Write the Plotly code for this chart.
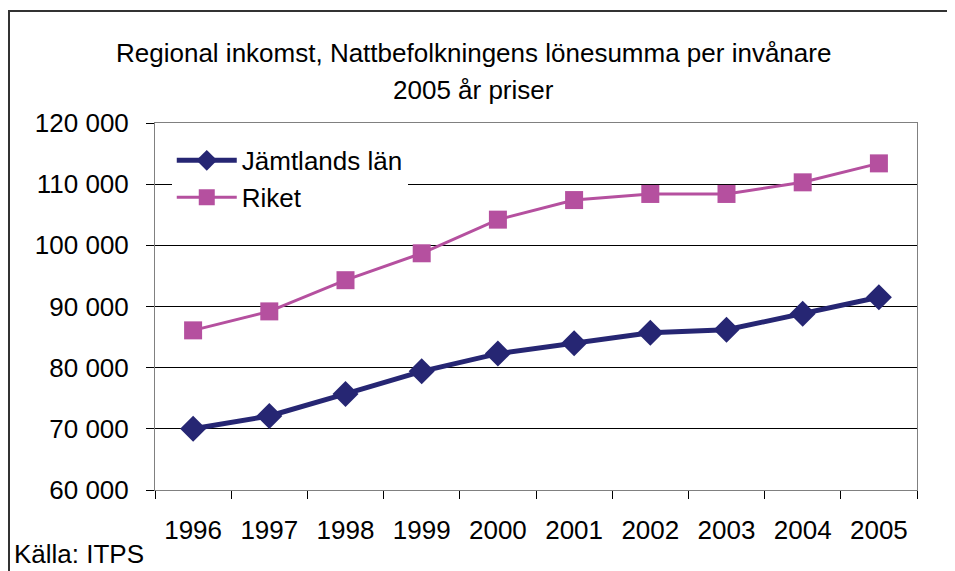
import plotly.graph_objects as go

# values
years = ["1996", "1997", "1998", "1999", "2000", "2001", "2002", "2003", "2004", "2005"]
jamtland = [70000, 72100, 75700, 79400, 82300, 84000, 85700, 86200, 88800, 91500]
riket = [86100, 89200, 94300, 98700, 104200, 107400, 108400, 108400, 110300, 113400]

font = "Liberation Sans, Arial, sans-serif"

fig = go.Figure()
fig.add_scatter(x=years, y=jamtland, name="Jämtlands län", mode="lines+markers",
                line=dict(color="#262673", width=5),
                marker=dict(symbol="diamond", size=20, color="#262673"))
fig.add_scatter(x=years, y=riket, name="Riket", mode="lines+markers",
                line=dict(color="#B5509F", width=3),
                marker=dict(symbol="square", size=18, color="#B5509F"))

# the page body has an 8px margin, so the figure is a bit smaller than the window
fig.update_layout(
    width=947, height=563,
    margin=dict(l=147, r=38, t=115, b=81),
    paper_bgcolor="white", plot_bgcolor="white",
    font=dict(family=font, size=26, color="black"),
    separators=". ",
    showlegend=True,
    legend=dict(x=0.022, y=0.962, xanchor="left", yanchor="top", itemwidth=60,
                bgcolor="white", font=dict(size=26), tracegroupgap=0),
)

fig.update_xaxes(type="category", range=[-0.5, 9.5], tickson="boundaries", ticks="outside",
                 ticklen=8, tickcolor="black", showline=True, linecolor="#808080", mirror=True,
                 showgrid=False, ticklabelstandoff=17)
fig.update_yaxes(range=[60000, 120000], dtick=10000, tickformat=",d", ticks="outside",
                 ticklen=8, tickcolor="black", showline=True, linecolor="#808080",
                 mirror=True, showgrid=True, gridcolor="black", gridwidth=1,
                 zeroline=False, ticklabelstandoff=12)

# chart title, two lines
fig.add_annotation(text="Regional inkomst, Nattbefolkningens lönesumma per invånare",
                   xref="paper", yref="paper", x=0.4186, y=1.19, xanchor="center",
                   yanchor="middle", showarrow=False, font=dict(size=26))
fig.add_annotation(text="2005 år priser", xref="paper", yref="paper", x=0.4186, y=1.09,
                   xanchor="center", yanchor="middle", showarrow=False, font=dict(size=26))

# source note
fig.add_annotation(text="Källa: ITPS", xref="paper", yref="paper", x=-0.1877, y=-0.174,
                   xanchor="left", yanchor="middle", showarrow=False, font=dict(size=26))

# outer chart frame (runs off the right and bottom edge as in the original)
fig.add_shape(type="rect", xref="paper", yref="paper", x0=-0.1916, x1=1.06, y0=-0.3, y1=1.305,
              line=dict(color="#333333", width=2), fillcolor="rgba(0,0,0,0)", layer="below")

fig.write_html("out.html")
